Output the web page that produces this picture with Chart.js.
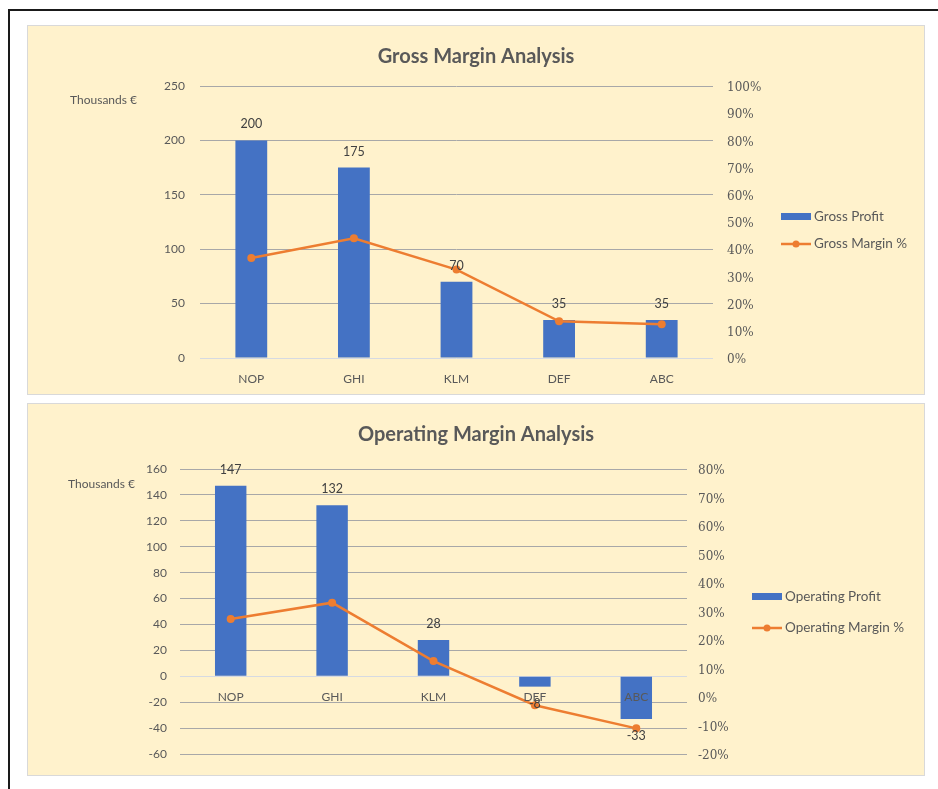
<!DOCTYPE html>
<html>
<head>
<meta charset="utf-8">
<script src="https://cdn.jsdelivr.net/npm/chart.js@4.4.1/dist/chart.umd.min.js"></script>
<style>
body { margin: 0; background: #fff; width: 938px; height: 789px; overflow: hidden; position: relative; }
#frame { position: absolute; left: 8px; top: 9px; width: 1000px; height: 1000px; border-top: 2px solid #1a1a1a; border-left: 2px solid #1a1a1a; }
.panel { position: absolute; left: 27px; width: 898px; box-sizing: border-box; border: 1px solid #d9d9d9; background: #fff2cc; }
#p1 { top: 25px; height: 370px; }
#p2 { top: 403px; height: 373px; }
canvas { display: block; }
</style>
</head>
<body>
<div id="frame"></div>
<div class="panel" id="p1"><canvas id="grossChart" width="896" height="368"></canvas></div>
<div class="panel" id="p2"><canvas id="opChart" width="896" height="371"></canvas></div>
<script>
// companies, sorted as in the report
const companies = ['NOP', 'GHI', 'KLM', 'DEF', 'ABC'];

// gross margin chart (thousands € and %)
const grossProfit = [200, 175, 70, 35, 35];
const grossMargin = [36.8, 44, 32.5, 13.5, 12.4];

// operating margin chart
const operatingProfit = [147, 132, 28, -8, -33];
const operatingMargin = [27.4, 33.1, 12.6, -2.9, -11];

const blue = '#4472C4';
const orange = '#ED7D31';
const textGrey = '#595959';

// value labels above / below the bars
const barLabels = {
    id: 'barLabels',
    afterDatasetsDraw(chart) {
        let ctx = chart.ctx;
        let meta = chart.getDatasetMeta(0);
        let values = chart.data.datasets[0].data;
        ctx.save();
        ctx.font = '12.5px Lato';
        ctx.fillStyle = '#404040';
        ctx.textAlign = 'center';
        ctx.textBaseline = 'middle';
        meta.data.forEach((bar, i) => {
            let v = values[i];
            let y = v >= 0 ? bar.y - 16 : bar.y + 17;
            ctx.fillText(v, bar.x, y);
        });
        ctx.restore();
    }
};

// "Thousands €" unit label and the legend on the right
const extras = {
    id: 'extras',
    afterDraw(chart, args, opts) {
        let ctx = chart.ctx;
        let ds = chart.data.datasets;
        ctx.save();
        ctx.font = '12px Lato';
        ctx.fillStyle = textGrey;
        ctx.textBaseline = 'middle';
        ctx.textAlign = 'right';
        ctx.fillText('Thousands €', opts.unitX, opts.unitY);

        let x = opts.legX, y = opts.legY;
        ctx.fillStyle = ds[0].backgroundColor;
        ctx.fillRect(x, y - 3.5, 30, 7);
        let y2 = y + opts.gap;
        ctx.strokeStyle = ds[1].borderColor;
        ctx.lineWidth = 2.5;
        ctx.beginPath();
        ctx.moveTo(x, y2);
        ctx.lineTo(x + 30, y2);
        ctx.stroke();
        ctx.fillStyle = ds[1].borderColor;
        ctx.beginPath();
        ctx.arc(x + 15, y2, 3.5, 0, Math.PI * 2);
        ctx.fill();

        ctx.font = '13.5px Lato';
        ctx.fillStyle = textGrey;
        ctx.textAlign = 'left';
        ctx.fillText(ds[0].label, x + 33, y);
        ctx.fillText(ds[1].label, x + 33, y2);
        ctx.restore();
    }
};

function gridColor(c) {
    return c.tick.value === 0 ? '#d6dae2' : '#a8a8a8';
}

function makeChart(id, cfg) {
    let ctx = document.getElementById(id).getContext('2d');
    return new Chart(ctx, {
        type: 'bar',
        data: {
            labels: companies,
            datasets: [{
                label: cfg.barLabel,
                data: cfg.bars,
                backgroundColor: blue,
                barPercentage: 0.31,
                categoryPercentage: 1,
                yAxisID: 'y',
                order: 2
            }, {
                type: 'line',
                label: cfg.lineLabel,
                data: cfg.line,
                borderColor: orange,
                backgroundColor: orange,
                borderWidth: 2.5,
                pointRadius: 4,
                pointBackgroundColor: orange,
                pointBorderWidth: 0,
                yAxisID: 'y1',
                order: 1
            }]
        },
        options: {
            responsive: false,
            animation: false,
            layout: {
                autoPadding: false,
                padding: { left: 0, right: 0, top: 0, bottom: cfg.padBottom }
            },
            plugins: {
                legend: { display: false },
                tooltip: { enabled: false },
                title: {
                    display: true,
                    text: cfg.title,
                    color: textGrey,
                    font: { family: 'Lato', size: 20, weight: 'bold' },
                    padding: { top: 19, bottom: cfg.titleBottom }
                },
                extras: cfg.extras
            },
            scales: {
                x: {
                    position: cfg.xPos,
                    grid: { display: false, drawTicks: false },
                    border: { display: false },
                    ticks: { z: 1, color: textGrey, font: { family: 'Lato', size: 12 }, padding: cfg.xPad },
                    afterFit: (s) => { s.height = cfg.xHeight; }
                },
                y: {
                    position: 'left',
                    min: cfg.yMin,
                    max: cfg.yMax,
                    grid: { color: gridColor, drawTicks: false },
                    border: { display: false },
                    ticks: { stepSize: cfg.yStep, color: textGrey, font: { family: 'Lato', size: 12 }, padding: cfg.yPad },
                    afterFit: (s) => { s.width = cfg.leftWidth; }
                },
                y1: {
                    position: 'right',
                    min: cfg.pMin,
                    max: cfg.pMax,
                    grid: { display: false, drawTicks: false },
                    border: { display: false },
                    ticks: {
                        stepSize: 10,
                        color: textGrey,
                        font: { family: 'DejaVu Serif', size: 12 },
                        padding: cfg.pPad,
                        labelOffset: 2,
                        callback: (v) => v + '%'
                    },
                    afterFit: (s) => { s.width = cfg.rightWidth; }
                }
            }
        },
        plugins: [barLabels, extras]
    });
}

makeChart('grossChart', {
    title: 'Gross Margin Analysis',
    barLabel: 'Gross Profit',
    lineLabel: 'Gross Margin %',
    bars: grossProfit,
    line: grossMargin,
    yMin: 0, yMax: 250, yStep: 50,
    pMin: 0, pMax: 100,
    padBottom: 0,
    titleBottom: 17,
    xPos: 'bottom', xPad: 14, xHeight: 36,
    leftWidth: 172, rightWidth: 211, yPad: 15, pPad: 14,
    extras: { unitX: 109, unitY: 74, legX: 753, legY: 190.5, gap: 27.5 }
});

makeChart('opChart', {
    title: 'Operating Margin Analysis',
    barLabel: 'Operating Profit',
    lineLabel: 'Operating Margin %',
    bars: operatingProfit,
    line: operatingMargin,
    yMin: -60, yMax: 160, yStep: 20,
    pMin: -20, pMax: 80,
    padBottom: 21,
    titleBottom: 22,
    xPos: { y: 0 }, xPad: 14, xHeight: 30,
    leftWidth: 152, rightWidth: 237, yPad: 13, pPad: 11,
    extras: { unitX: 107, unitY: 80, legX: 724, legY: 192.5, gap: 31.5 }
});
</script>
</body>
</html>
